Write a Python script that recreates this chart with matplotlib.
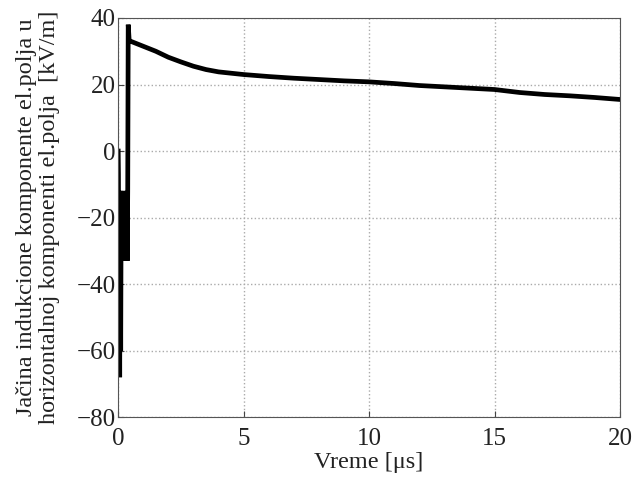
import numpy as np
import matplotlib
matplotlib.use('Agg')
import matplotlib.pyplot as plt

# time [us] and field [kV/m]
t_us = [0.0, 0.01, 0.02, 0.04, 0.06, 0.08, 0.10, 0.12, 0.14, 0.18, 0.22, 0.26,
        0.30, 0.34, 0.36, 0.38, 0.40, 0.44, 0.5, 1.0, 1.5, 2.0, 2.5, 3.0, 3.5,
        4.0, 5.0, 6.0, 7.0, 8.0, 9.0, 10.0, 11.0, 12.0, 13.0, 14.0, 15.0, 16.0,
        17.0, 18.0, 19.0, 20.0]
e_kvm = [0.0, -7.0, -40.0, -12.0, -68.0, -12.0, -60.0, -12.0, -33.0, -12.0, -33.0, -12.0,
         -33.0, -12.0, -33.0, -12.0, 38.0, 33.0, 33.0, 31.5, 30.0, 28.2, 26.8, 25.5, 24.5,
         23.8, 23.0, 22.4, 21.9, 21.5, 21.1, 20.8, 20.3, 19.7, 19.3, 18.9, 18.5, 17.6,
         17.0, 16.6, 16.1, 15.5]

xticks = [0, 5, 10, 15, 20]
yticks = [-80, -60, -40, -20, 0, 20, 40]

plt.rcParams['font.family'] = ['Liberation Serif', 'DejaVu Serif']

fig = plt.figure(figsize=(6.32, 4.8), dpi=100)
ax = fig.add_axes([0.187, 0.131, 0.794, 0.8315])
ax.plot(t_us, e_kvm, color='black', lw=3.4, solid_joinstyle='miter')
ax.set_xlim(0, 20)
ax.set_ylim(-80, 40)
ax.set_xticks(xticks)
ax.set_yticks(yticks)
ax.tick_params(direction='in', labelsize=18, length=4, color='#444444', pad=2,
               labelcolor='#222222')
ax.tick_params(axis='x', pad=8)
ax.grid(True, linestyle=':', color='#aaaaaa', lw=1)
for s in ax.spines.values():
    s.set_color('#555555')
    s.set_linewidth(0.8)
ax.set_xlabel('Vreme [\u03bcs]', fontsize=17.5, labelpad=1, color='#222222')
ax.set_ylabel('Ja\u010dina indukcione komponente el.polja u\n'
              'horizontalnoj komponenti el.polja  [kV/m]', fontsize=17.5, labelpad=12,
              linespacing=1.1, color='#222222')

fig.savefig('out.png', dpi=100)
